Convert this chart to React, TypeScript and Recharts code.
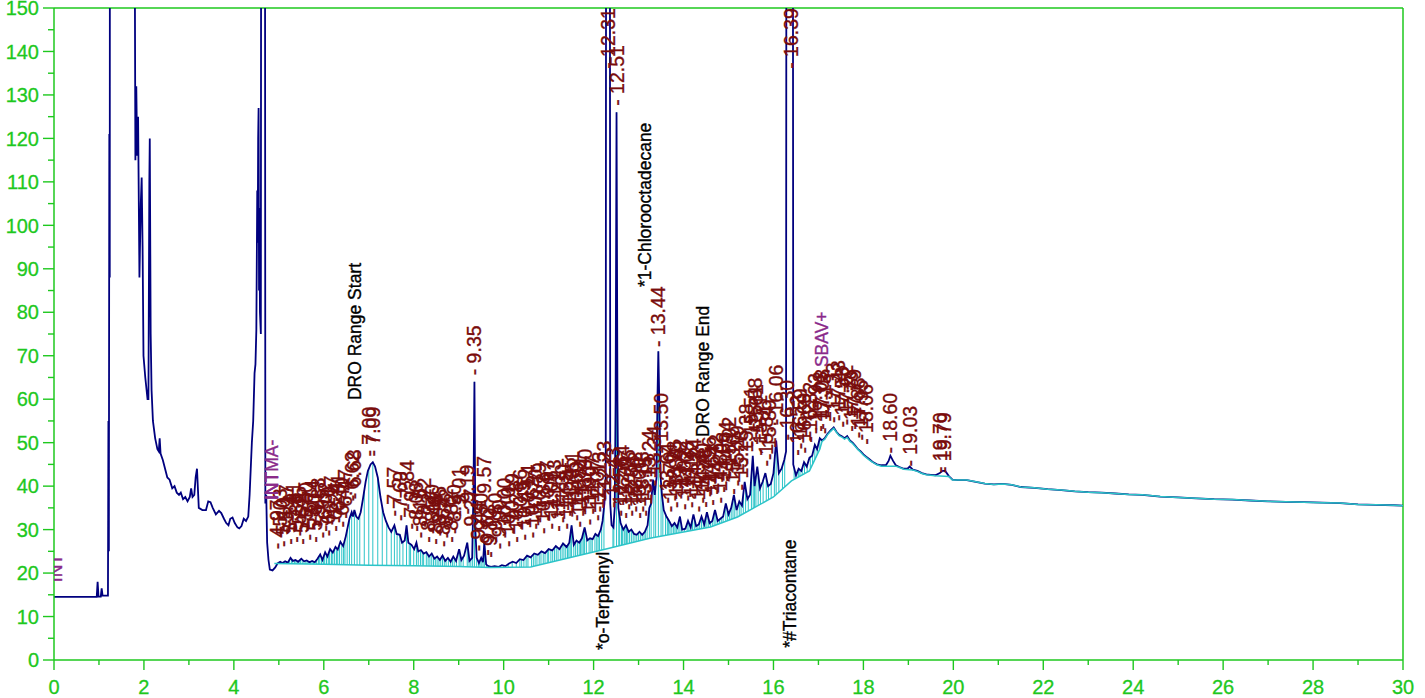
import React from 'react';
import { ComposedChart, Line, Scatter, XAxis, YAxis, ReferenceLine } from 'recharts';

// retention time (min) vs detector response
const trace: [number, number][] = [
  [0, 14.5], [0.95, 14.5], [0.97, 18], [0.99, 14.6], [1.04, 14.6], [1.06, 16.5], [1.08, 14.8], [1.2, 14.8],
  [1.21, 55], [1.22, 25], [1.23, 121], [1.24, 88], [1.25, 400], [1.78, 400], [1.8, 150], [1.81, 115],
  [1.83, 132], [1.85, 116], [1.87, 125], [1.9, 88], [1.93, 105], [1.95, 111], [1.97, 95], [1.99, 70],
  [2.03, 65], [2.08, 60], [2.1, 60], [2.12, 110], [2.13, 120], [2.15, 75], [2.17, 62], [2.2, 55],
  [2.25, 51], [2.3, 48.5], [2.33, 48], [2.35, 51], [2.37, 47.5], [2.42, 46], [2.47, 44], [2.52, 42],
  [2.57, 41.5], [2.63, 39.5], [2.68, 40], [2.73, 38.5], [2.78, 38], [2.82, 38.5], [2.87, 37], [2.92, 37.5],
  [2.97, 36.5], [3.02, 37.5], [3.05, 39.5], [3.08, 37.5], [3.12, 38], [3.15, 42], [3.18, 44], [3.22, 35],
  [3.3, 34.5], [3.38, 34.5], [3.43, 36.5], [3.48, 36.3], [3.53, 35], [3.6, 33.5], [3.67, 34.3], [3.72, 33.8],
  [3.78, 32.5], [3.83, 31.5], [3.88, 31], [3.92, 32.5], [3.97, 32.8], [4.02, 31.5], [4.08, 30.5], [4.12, 30.3],
  [4.17, 30.8], [4.22, 32.5], [4.27, 32], [4.32, 33], [4.35, 38], [4.4, 50], [4.43, 55], [4.46, 66],
  [4.48, 68], [4.5, 76], [4.52, 108], [4.53, 96], [4.54, 120], [4.55, 127], [4.56, 85], [4.57, 104],
  [4.58, 80], [4.6, 75], [4.62, 400], [4.68, 400], [4.7, 36], [4.72, 38], [4.74, 27], [4.77, 23],
  [4.8, 20.8], [4.86, 20.6], [4.92, 21.3], [4.97, 22.2], [5.03, 22.6], [5.08, 22.3], [5.14, 22.7], [5.2, 22.4],
  [5.26, 23.5], [5.31, 22.8], [5.37, 23], [5.43, 22.6], [5.5, 23.3], [5.56, 22.7], [5.62, 22.9], [5.68, 22.5],
  [5.74, 22.8], [5.8, 22.5], [5.86, 23.3], [5.92, 24.3], [5.97, 23], [6.03, 24.8], [6.08, 23.8], [6.14, 25.5],
  [6.2, 24.7], [6.26, 26], [6.31, 25.4], [6.37, 27.2], [6.43, 26.2], [6.49, 28.5], [6.53, 30.5], [6.57, 32.5],
  [6.62, 34], [6.65, 33], [6.68, 34.5], [6.72, 33], [6.77, 32.5], [6.82, 34], [6.87, 37], [6.93, 41],
  [6.98, 43.5], [7.04, 45], [7.09, 45.5], [7.14, 44.5], [7.2, 42], [7.26, 37.5], [7.32, 34], [7.38, 32],
  [7.44, 30.5], [7.5, 29.5], [7.57, 31], [7.62, 29], [7.69, 28.8], [7.74, 27], [7.8, 27.5], [7.84, 31],
  [7.88, 27], [7.95, 26.5], [8.01, 25.5], [8.06, 27], [8.1, 25], [8.16, 25.3], [8.22, 24.5], [8.28, 24.8],
  [8.34, 23.8], [8.4, 24.5], [8.46, 23.3], [8.52, 23.8], [8.58, 23], [8.64, 24], [8.7, 22.8], [8.76, 23.5],
  [8.82, 22.6], [8.88, 23.8], [8.94, 22.8], [9.01, 25.5], [9.06, 23], [9.12, 24], [9.19, 27], [9.24, 22.8],
  [9.3, 23.5], [9.33, 40], [9.35, 64], [9.37, 30], [9.4, 23.5], [9.45, 22.3], [9.5, 23.5], [9.54, 22.5],
  [9.57, 27], [9.61, 22], [9.66, 21.6], [9.72, 21.4], [9.8, 21.6], [9.88, 21.4], [9.96, 21.8], [10.04, 21.6],
  [10.12, 22.2], [10.2, 22.6], [10.28, 22.3], [10.36, 23.2], [10.44, 23], [10.52, 24], [10.6, 23.6], [10.68, 24.5],
  [10.76, 24.2], [10.84, 25], [10.92, 24.6], [11.0, 25.5], [11.08, 25.2], [11.16, 26.2], [11.24, 25.5], [11.32, 26.8],
  [11.4, 26], [11.46, 27], [11.51, 31], [11.56, 26.5], [11.62, 27.5], [11.68, 27], [11.74, 28], [11.8, 30.5],
  [11.86, 27.5], [11.92, 28], [11.98, 27.8], [12.04, 29], [12.1, 28.5], [12.16, 30], [12.2, 32], [12.24, 36],
  [12.27, 42], [12.29, 400], [12.35, 400], [12.37, 36], [12.4, 31], [12.44, 30.5], [12.47, 35], [12.49, 60],
  [12.51, 126], [12.53, 60], [12.55, 35], [12.6, 31.5], [12.66, 30], [12.72, 31], [12.78, 29.5], [12.84, 30],
  [12.9, 29], [12.96, 28.8], [13.02, 29.5], [13.08, 28.8], [13.14, 29.5], [13.2, 31], [13.24, 35], [13.28, 36],
  [13.32, 41.5], [13.36, 38], [13.4, 42], [13.42, 60], [13.44, 71], [13.46, 60], [13.49, 42], [13.52, 38],
  [13.56, 34.5], [13.62, 33], [13.68, 32], [13.74, 30.8], [13.8, 31.5], [13.86, 30.5], [13.92, 33], [13.97, 30],
  [14.04, 30.2], [14.1, 32], [14.16, 30.5], [14.22, 33.5], [14.28, 30.8], [14.34, 31.2], [14.4, 33], [14.46, 31.2],
  [14.52, 34], [14.58, 31.5], [14.64, 32], [14.7, 34.5], [14.76, 32], [14.82, 32.5], [14.88, 33], [14.94, 36],
  [15.0, 33.5], [15.06, 35], [15.12, 38], [15.18, 34.5], [15.24, 36.5], [15.3, 35.5], [15.36, 41], [15.42, 37],
  [15.48, 38], [15.54, 47], [15.58, 40], [15.64, 44.5], [15.7, 39.5], [15.76, 41], [15.82, 43], [15.88, 40],
  [15.94, 40.5], [16.0, 43], [16.06, 50.5], [16.12, 43], [16.18, 44], [16.24, 46], [16.28, 48], [16.3, 400],
  [16.42, 400], [16.44, 45], [16.5, 42.5], [16.56, 44], [16.62, 43.5], [16.68, 45.5], [16.74, 44.5], [16.8, 46.5],
  [16.86, 47], [16.92, 49.5], [16.97, 48.5], [17.03, 51], [17.08, 50.5], [17.14, 51], [17.2, 52], [17.27, 52.8],
  [17.34, 53.5], [17.4, 52.5], [17.46, 51.8], [17.52, 51.5], [17.58, 51], [17.64, 51.5], [17.7, 50.5], [17.76, 50],
  [17.82, 49.3], [17.88, 48.5], [17.94, 48], [18.0, 47.3], [18.06, 46.8], [18.12, 46.3], [18.2, 45.6], [18.3, 45],
  [18.4, 44.8], [18.5, 44.8], [18.56, 45.8], [18.6, 47], [18.66, 45.8], [18.72, 44.8], [18.8, 44.4], [18.9, 44],
  [18.98, 44], [19.03, 44.5], [19.1, 43.8], [19.2, 43.5], [19.3, 43], [19.4, 42.7], [19.5, 42.6], [19.6, 42.5],
  [19.7, 43], [19.76, 43.5], [19.82, 43.5], [19.9, 42.3], [19.98, 41.5], [20.1, 41.4], [20.3, 41.4], [20.5, 41],
  [20.7, 40.6], [20.9, 40.4], [21.1, 40.5], [21.3, 40.3], [21.5, 39.8], [21.8, 39.6], [22.1, 39.3], [22.4, 39.1],
  [22.7, 38.8], [23.0, 38.6], [23.3, 38.5], [23.6, 38.3], [23.9, 38.1], [24.2, 38], [24.6, 37.6], [25.0, 37.4],
  [25.4, 37.2], [25.8, 37], [26.2, 36.9], [26.6, 36.7], [27.0, 36.5], [27.4, 36.4], [27.8, 36.3], [28.2, 36.2],
  [28.6, 36.1], [29.0, 35.8], [29.4, 35.7], [29.8, 35.6], [30.0, 35.5],
];

// integration baseline (cyan); after ~20 min it runs along the trace
const baseline: [number, number][] = [
  [4.9, 22.2], [6.0, 22.0], [7.0, 21.8], [8.0, 21.7], [9.0, 21.5], [9.7, 21.3], [10.6, 21.4], [12.3, 25.6],
  [13.25, 28], [14.6, 30.6], [15.2, 32.9], [16.0, 37.5], [16.4, 41.2], [16.8, 43.5], [17.03, 48.5], [17.08, 50.3],
  [17.14, 50.8], [17.2, 51.8], [17.27, 52.6], [17.34, 53.3], [17.4, 52.4], [17.46, 51.6], [17.52, 51.3], [17.58, 50.8],
  [17.64, 51.2], [17.7, 50.3], [17.76, 49.8], [17.82, 49.1], [17.88, 48.4], [17.94, 47.8], [18.0, 47.1], [18.06, 46.6],
  [18.12, 46.1], [18.2, 45.5], [18.3, 44.9], [18.4, 44.6], [18.5, 44.6], [18.72, 44.6], [18.8, 44.3], [18.9, 43.9],
  [19.1, 43.7], [19.2, 43.4], [19.3, 42.9], [19.4, 42.6], [19.6, 42.4], [19.9, 42.2], [19.98, 41.4],
];

// peak retention times and the height where each label starts
const peakLabels: [string, number][] = [
  ['4.97', 25.5], ['5.03', 28], ['5.10', 26], ['5.17', 29], ['5.24', 26.5], ['5.31', 29.5], ['5.38', 27], ['5.45', 28.5],
  ['5.52', 26.5], ['5.60', 29.5], ['5.67', 27.5], ['5.74', 30], ['5.80', 27], ['5.88', 30.5], ['5.95', 28], ['6.02', 29.5],
  ['6.10', 28.5], ['6.17', 31], ['6.24', 29.5], ['6.31', 31.5], ['6.40', 30.5], ['6.47', 32.5], ['6.62', 36.5], ['6.68', 37],
  ['7.00', 46.8], ['7.09', 46.8], ['7.57', 33], ['7.69', 32], ['7.84', 34.5], ['7.93', 30], ['8.06', 29.5], ['8.15', 28],
  ['8.22', 30.5], ['8.32', 27], ['8.40', 29], ['8.48', 26.5], ['8.56', 28.5], ['8.64', 26], ['8.72', 28], ['8.82', 27],
  ['8.90', 29], ['9.01', 33], ['9.19', 33.5], ['9.27', 28], ['9.35', 65.5], ['9.44', 25], ['9.50', 27], ['9.57', 35.5],
  ['9.62', 24], ['9.70', 23.5], ['9.80', 27], ['9.90', 25.5], ['10.00', 28], ['10.10', 26], ['10.19', 29], ['10.28', 27],
  ['10.36', 30], ['10.45', 27.5], ['10.54', 31], ['10.62', 28], ['10.70', 30], ['10.79', 31.5], ['10.88', 29], ['10.97', 32],
  ['11.05', 30], ['11.13', 32.5], ['11.21', 29.5], ['11.30', 31.5], ['11.38', 30], ['11.45', 33], ['11.51', 34.5], ['11.60', 32],
  ['11.68', 30.5], ['11.74', 33], ['11.80', 35], ['11.90', 31], ['11.97', 33.5], ['12.07', 32], ['12.13', 34], ['12.23', 36.5],
  ['12.31', 136], ['12.43', 35], ['12.51', 127.5], ['12.58', 33], ['12.64', 35.5], ['12.70', 32.5], ['12.76', 34.5], ['12.84', 33],
  ['12.92', 34], ['13.00', 32.5], ['13.08', 34], ['13.15', 33], ['13.24', 39], ['13.34', 40], ['13.44', 72], ['13.50', 47.5],
  ['13.64', 36], ['13.70', 34], ['13.78', 36.5], ['13.84', 35], ['13.92', 37], ['14.02', 34.5], ['14.08', 36.5], ['14.16', 35],
  ['14.24', 37], ['14.32', 34], ['14.40', 36], ['14.48', 35], ['14.56', 37.5], ['14.64', 35.5], ['14.72', 38], ['14.80', 36],
  ['14.88', 38.5], ['14.94', 41], ['15.02', 42], ['15.10', 38], ['15.19', 40], ['15.28', 39], ['15.38', 45], ['15.51', 49],
  ['15.58', 51], ['15.61', 49.5], ['15.71', 47], ['15.84', 44.5], ['15.89', 46], ['16.06', 54], ['16.30', 50.5], ['16.39', 136],
  ['16.52', 47], ['16.59', 48.5], ['16.69', 47.5], ['16.82', 50], ['16.92', 52], ['17.03', 52.5], ['17.08', 53], ['17.13', 52],
  ['17.33', 54.5], ['17.43', 55], ['17.53', 53.5], ['17.62', 54], ['17.73', 52.5], ['17.79', 53], ['17.88', 51], ['17.95', 50.5],
  ['18.06', 49.5], ['18.60', 47.5], ['19.03', 44.5], ['19.70', 43], ['19.79', 43],
];

// extra integration boundaries (drop lines without their own label)
const extraDrops = [
  5.06, 5.13, 5.2, 5.28, 5.35, 5.41, 5.48, 5.56, 5.63, 5.7, 5.77, 5.84, 5.91, 5.99, 6.06, 6.13, 6.2, 6.28, 6.35,
  6.44, 6.52, 6.57, 6.74, 6.8, 6.9, 7.2, 7.3, 7.4, 7.5, 7.63, 7.76, 7.9, 8.0, 8.1, 8.19, 8.28, 8.36, 8.44, 8.52,
  8.6, 8.68, 8.77, 8.86, 8.95, 9.05, 9.1, 9.23, 9.31, 9.4, 9.47, 9.54, 9.66, 10.4, 10.5, 10.66, 10.74, 10.83,
  10.92, 11.0, 11.09, 11.17, 11.26, 11.34, 11.42, 11.48, 11.56, 11.64, 11.71, 11.77, 11.84, 11.94, 12.03, 12.1,
  12.18, 12.45, 12.56, 12.62, 12.68, 12.73, 12.8, 12.88, 12.96, 13.04, 13.12, 13.19, 13.28, 13.38, 13.54, 13.6,
  13.67, 13.74, 13.81, 13.88, 13.96, 14.12, 14.2, 14.28, 14.36, 14.44, 14.52, 14.6, 14.68, 14.76, 14.84, 14.98,
  15.06, 15.14, 15.24, 15.33, 15.44, 15.55, 15.66, 15.77, 15.95, 16.02, 16.12, 16.2, 16.25, 16.46, 16.56, 16.64,
  16.75, 16.87, 16.97,
];

// compound / event annotations: [text, time, start height]
const blackNotes: [string, number, number][] = [
  ['DRO Range Start', 6.69, 59.8],
  ['*1-Chlorooctadecane', 13.14, 85.8],
  ['DRO Range End', 14.43, 51.3],
  ['*o-Terphenyl', 12.21, 2.3],
  ['*#Triacontane', 16.37, 2.8],
];
const purpleNotes: [string, number, number][] = [
  ['INT', 0.04, 17.9],
  ['INTMA-', 4.85, 36.8],
  ['INT', 4.85, 36.8],
  ['SBAV+', 17.08, 67.4],
];

const xTicks = [0, 1, 2, 3, 4, 5, 6, 7, 8, 9, 10, 11, 12, 13, 14, 15, 16, 17, 18, 19, 20, 21, 22, 23, 24, 25, 26, 27, 28, 29, 30];
const yTicks = [0, 5, 10, 15, 20, 25, 30, 35, 40, 45, 50, 55, 60, 65, 70, 75, 80, 85, 90, 95, 100, 105, 110, 115, 120, 125, 130, 135, 140, 145, 150];

const GREEN = '#1ec81e';
const NAVY = '#00007f';
const CYAN = '#2cc4c8';
const MAROON = '#7a0c0c';
const PURPLE = '#8a2a8a';
const FONT = '"Liberation Sans", Arial, sans-serif';

const toPts = (arr: [number, number][]) => arr.map(([t, v]) => ({ t, v }));

const valueAt = (arr: [number, number][], t: number) => {
  for (let i = 1; i < arr.length; i++) {
    if (arr[i][0] >= t) {
      const [t0, v0] = arr[i - 1];
      const [t1, v1] = arr[i];
      return v0 + ((v1 - v0) * (t - t0)) / (t1 - t0);
    }
  }
  return arr[arr.length - 1][1];
};

const traceData = toPts(trace);
const baselineData = [...toPts(baseline), ...toPts(trace.filter(([t]) => t >= 20))];

const labelData = [
  ...peakLabels.map(([s, y]) => ({ t: parseFloat(s), v: y, text: '- ' + s, color: MAROON, size: 19.5 })),
  ...blackNotes.map(([s, t, y]) => ({ t, v: y, text: s, color: '#000', size: 17.5 })),
  ...purpleNotes.map(([s, t, y]) => ({ t, v: y, text: s, color: PURPLE, size: 17.5 })),
];

const drops = [...peakLabels.map(([s]) => parseFloat(s)), ...extraDrops]
  .filter((t) => t >= 4.95 && t <= 17.05)
  .map((t) => ({ t, bottom: valueAt(baseline, t), top: valueAt(trace, t) }))
  .filter((d) => d.top < 150 && d.top > d.bottom);

const RotatedLabel = (props: any) => {
  const { cx, cy, payload } = props;
  if (cx == null || cy == null) return null;
  return (
    <text
      x={cx}
      y={cy}
      transform={`rotate(-90 ${cx} ${cy})`}
      textAnchor="start"
      dominantBaseline="central"
      fill={payload.color}
      stroke={payload.color}
      strokeWidth={0.35}
      fontSize={payload.size}
      fontFamily={FONT}
    >
      {payload.text}
    </text>
  );
};

const XTick = (props: any) => {
  const { x, y, payload } = props;
  const major = payload.value % 2 === 0;
  return (
    <g>
      <line x1={x} y1={y} x2={x} y2={y + (major ? 10 : 5)} stroke={GREEN} strokeWidth={1.4} />
      {major && (
        <text x={x} y={y + 34} textAnchor="middle" fill={GREEN} stroke={GREEN} strokeWidth={0.3} fontSize={20} fontFamily={FONT}>
          {payload.value}
        </text>
      )}
    </g>
  );
};

const YTick = (props: any) => {
  const { x, y, payload } = props;
  const major = payload.value % 10 === 0;
  return (
    <g>
      <line x1={x - (major ? 11 : 6)} y1={y} x2={x} y2={y} stroke={GREEN} strokeWidth={1.4} />
      {major && (
        <text x={x - 15} y={y} dy="0.36em" textAnchor="end" fill={GREEN} stroke={GREEN} strokeWidth={0.3} fontSize={20} fontFamily={FONT}>
          {payload.value}
        </text>
      )}
    </g>
  );
};

const App: React.FC = () => {
  return (
    <div style={{ position: 'absolute', left: 0, top: 0, width: 1425, height: 698, background: '#fff' }}>
      <ComposedChart width={1425} height={698} margin={{ top: 8, right: 22, bottom: 0, left: 0 }}>
        <XAxis
          type="number"
          dataKey="t"
          domain={[0, 30]}
          ticks={xTicks}
          interval={0}
          allowDataOverflow
          height={38}
          tickSize={0}
          tickMargin={0}
          tick={<XTick />}
          axisLine={{ stroke: GREEN, strokeWidth: 1.5 }}
          tickLine={false}
        />
        <YAxis
          type="number"
          dataKey="v"
          domain={[0, 150]}
          ticks={yTicks}
          interval={0}
          allowDataOverflow
          width={54}
          tickSize={0}
          tickMargin={0}
          tick={<YTick />}
          axisLine={{ stroke: GREEN, strokeWidth: 1.5 }}
          tickLine={false}
        />
        <ReferenceLine y={150} stroke={GREEN} strokeWidth={1.5} />
        <ReferenceLine x={30} stroke={GREEN} strokeWidth={1.5} />
        {drops.map((d) => (
          <ReferenceLine
            key={'d' + d.t}
            segment={[{ x: d.t, y: d.bottom }, { x: d.t, y: d.top }]}
            stroke={CYAN}
            strokeWidth={1}
            ifOverflow="hidden"
          />
        ))}
        <Line
          data={traceData}
          dataKey="v"
          type="linear"
          stroke={NAVY}
          strokeWidth={1.8}
          dot={false}
          activeDot={false}
          isAnimationActive={false}
        />
        <Line
          data={baselineData}
          dataKey="v"
          type="linear"
          stroke={CYAN}
          strokeWidth={1.5}
          dot={false}
          activeDot={false}
          isAnimationActive={false}
        />
        <Scatter data={labelData} dataKey="v" shape={RotatedLabel} isAnimationActive={false} />
      </ComposedChart>
    </div>
  );
};

export default App;
